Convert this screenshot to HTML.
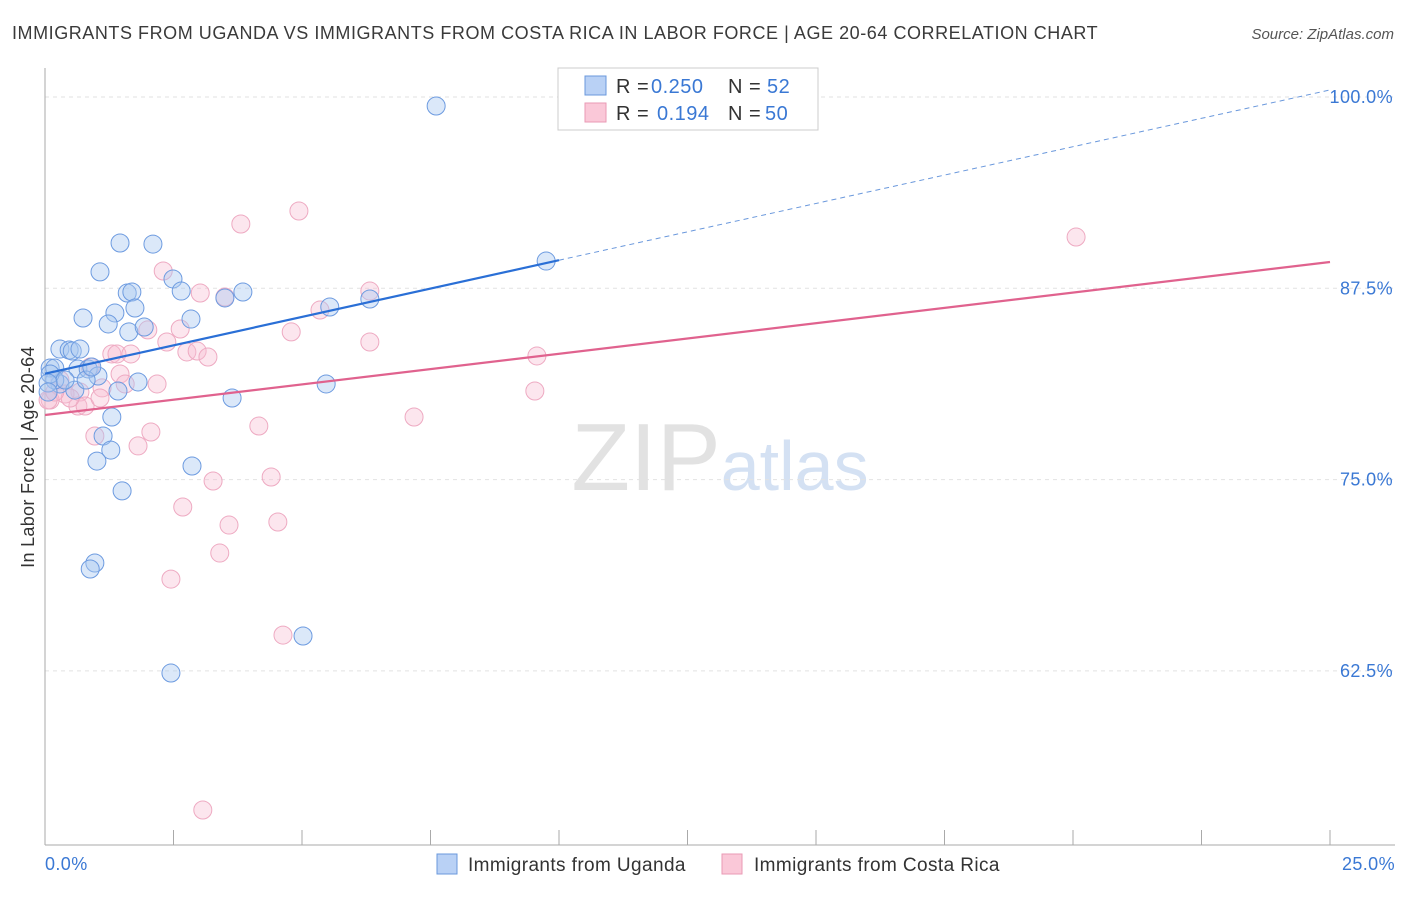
<!DOCTYPE html>
<html><head><meta charset="utf-8"><style>
body{margin:0;background:#fff;font-family:"Liberation Sans",sans-serif;}
svg text{font-family:"Liberation Sans",sans-serif;}
</style></head><body>
<svg width="1406" height="892">
<text x="12" y="39" font-size="18" fill="#3a3a3a" letter-spacing="0.55">IMMIGRANTS FROM UGANDA VS IMMIGRANTS FROM COSTA RICA IN LABOR FORCE | AGE 20-64 CORRELATION CHART</text>
<text x="1394" y="39" font-size="15" fill="#555" text-anchor="end" font-style="italic">Source: ZipAtlas.com</text>
<text x="720" y="490" font-size="96" fill="#e2e2e2" text-anchor="middle" font-family="Liberation Serif">ZIP<tspan fill="#d4e1f3" font-family="Liberation Sans" font-size="70">atlas</tspan></text>
<g id="grid"></g>
<g id="axes"></g>
<g id="pts"></g>
<g id="lines"></g>
<text x="34" y="457" font-size="18" fill="#333" text-anchor="middle" letter-spacing="0.3" transform="rotate(-90 34 457)">In Labor Force | Age 20-64</text>
<g>
<rect x="558" y="68" width="260" height="62" fill="#fff" stroke="#ccc"/>
<rect x="585" y="76" width="21" height="19" fill="#b9d1f5" stroke="#6a98dc"/>
<rect x="585" y="103" width="21" height="19" fill="#fac8d8" stroke="#e99ab5"/>
<text x="616" y="93" font-size="20" fill="#333" letter-spacing="0.5">R = <tspan fill="#3a78d4" x="651">0.250</tspan><tspan x="728">N = </tspan><tspan fill="#3a78d4" x="767">52</tspan></text>
<text x="616" y="120" font-size="20" fill="#333" letter-spacing="0.5">R = <tspan fill="#3a78d4" x="657">0.194</tspan><tspan x="728">N = </tspan><tspan fill="#3a78d4" x="765">50</tspan></text>
</g>
<g>
<rect x="437" y="854" width="20" height="20" fill="#b9d1f5" stroke="#6a98dc"/>
<text x="468" y="871" font-size="19" fill="#333" letter-spacing="0.4">Immigrants from Uganda</text>
<rect x="722" y="854" width="20" height="20" fill="#fac8d8" stroke="#e99ab5"/>
<text x="754" y="871" font-size="19" fill="#333" letter-spacing="0.4">Immigrants from Costa Rica</text>
</g>
</svg>
<script>
const yTicks=[100,87.5,75,62.5];
const yTickLabels=["100.0%","87.5%","75.0%","62.5%"];
const xTickLabels=["0.0%","25.0%"];
const ugX=[7.61,9.75,1.46,2.10,1.07,2.49,2.65,1.60,1.69,3.85,3.50,6.32,5.54,0.74,1.36,1.75,2.84,1.23,1.63,1.93,0.29,0.47,0.53,0.68,0.10,0.19,0.64,0.84,1.03,1.81,0.29,0.58,1.42,5.47,3.64,1.30,1.13,1.28,1.01,2.86,1.50,0.97,0.88,5.02,2.45,0.19,0.10,0.39,0.06,0.80,0.91,0.06];
const ugY=[99.41,89.28,90.46,90.39,88.57,88.11,87.32,87.19,87.26,87.26,86.87,86.80,86.28,85.56,85.89,86.21,85.49,85.17,84.65,84.97,83.53,83.47,83.40,83.53,82.29,82.29,82.23,82.23,81.77,81.38,81.25,80.85,80.79,81.25,80.33,79.09,77.85,76.93,76.21,75.89,74.26,69.55,69.16,64.78,62.36,81.51,81.90,81.51,81.31,81.51,82.36,80.72];
const crX=[4.94,3.81,20.06,2.30,6.32,3.02,3.50,5.35,2.00,2.63,4.79,6.32,2.37,2.76,2.96,3.17,1.30,1.40,1.67,9.57,0.88,0.29,1.46,2.18,1.56,1.11,0.68,0.39,9.53,0.10,0.64,0.78,7.18,4.16,0.97,2.06,1.81,4.40,3.27,2.68,4.53,3.58,3.40,2.45,4.63,3.07,0.06,0.49,1.07,0.19];
const crY=[92.55,91.70,90.85,88.63,87.32,87.19,86.93,86.08,84.78,84.84,84.65,83.99,83.99,83.34,83.40,83.01,83.21,83.21,83.21,83.08,82.36,81.51,81.90,81.25,81.25,80.99,80.72,80.59,80.79,80.20,79.81,79.81,79.09,78.50,77.85,78.11,77.20,75.17,74.91,73.21,72.23,72.03,70.20,68.50,64.84,53.41,80.20,80.33,80.33,80.72];
const ugTrend=[81.92,100.46];
const ugSolidEnd=10;
const crTrend=[79.22,89.22];
const NS="http://www.w3.org/2000/svg";
const X=v=>45+v/25*1285;
const Y=v=>97+(100-v)/12.5*191.3;
function mk(t,a,p){const e=document.createElementNS(NS,t);for(const k in a)e.setAttribute(k,a[k]);p.appendChild(e);return e;}
const grid=document.getElementById('grid'),axes=document.getElementById('axes'),pts=document.getElementById('pts'),lines=document.getElementById('lines');
yTicks.forEach((t,i)=>{
 const l=mk('line',{x1:45,x2:1395,y1:Y(t),y2:Y(t),stroke:'#e2e2e2','stroke-dasharray':'4 4'},grid);
 
 
 const tx=mk('text',{x:1393,y:Y(t)+6,'font-size':18,fill:'#3a78d4','text-anchor':'end','letter-spacing':0.4},axes);
 tx.textContent=yTickLabels[i];
 
 
});
mk('line',{x1:45,x2:45,y1:68,y2:845,stroke:'#aaa'},axes);
mk('line',{x1:45,x2:1395,y1:845,y2:845,stroke:'#aaa'},axes);
for(let i=0;i<=10;i++){const x=X(i*2.5);mk('line',{x1:x,x2:x,y1:830,y2:845,stroke:'#aaa'},axes);}
[[0,'start',45],[1,'end',1395]].forEach(([i,a,x])=>{
 const tx=mk('text',{x:x,y:870,'font-size':18,fill:'#3a78d4','text-anchor':a,'letter-spacing':0.4},axes);
 tx.textContent=xTickLabels[i];
 
 
});
crX.forEach((v,i)=>{
 const c=mk('circle',{cx:X(v),cy:Y(crY[i]),r:9,fill:'rgba(248,190,210,0.38)',stroke:'#eeaac2','stroke-width':1},pts);
 
 
});
ugX.forEach((v,i)=>{
 const c=mk('circle',{cx:X(v),cy:Y(ugY[i]),r:9,fill:'rgba(170,200,240,0.42)',stroke:'#6d9be0','stroke-width':1},pts);
 
 
});
const ugAt=x=>ugTrend[0]+(ugTrend[1]-ugTrend[0])*x/25;
let l1=mk('line',{x1:X(0),y1:Y(ugTrend[0]),x2:X(ugSolidEnd),y2:Y(ugAt(ugSolidEnd)),stroke:'#2a6fd6','stroke-width':2.2},lines);


let l2=mk('line',{x1:X(ugSolidEnd),y1:Y(ugAt(ugSolidEnd)),x2:X(25),y2:Y(ugTrend[1]),stroke:'#6a98dc','stroke-width':1,'stroke-dasharray':'5 4'},lines);


let l3=mk('line',{x1:X(0),y1:Y(crTrend[0]),x2:X(25),y2:Y(crTrend[1]),stroke:'#e0628e','stroke-width':2.2},lines);


</script>
</body></html>
